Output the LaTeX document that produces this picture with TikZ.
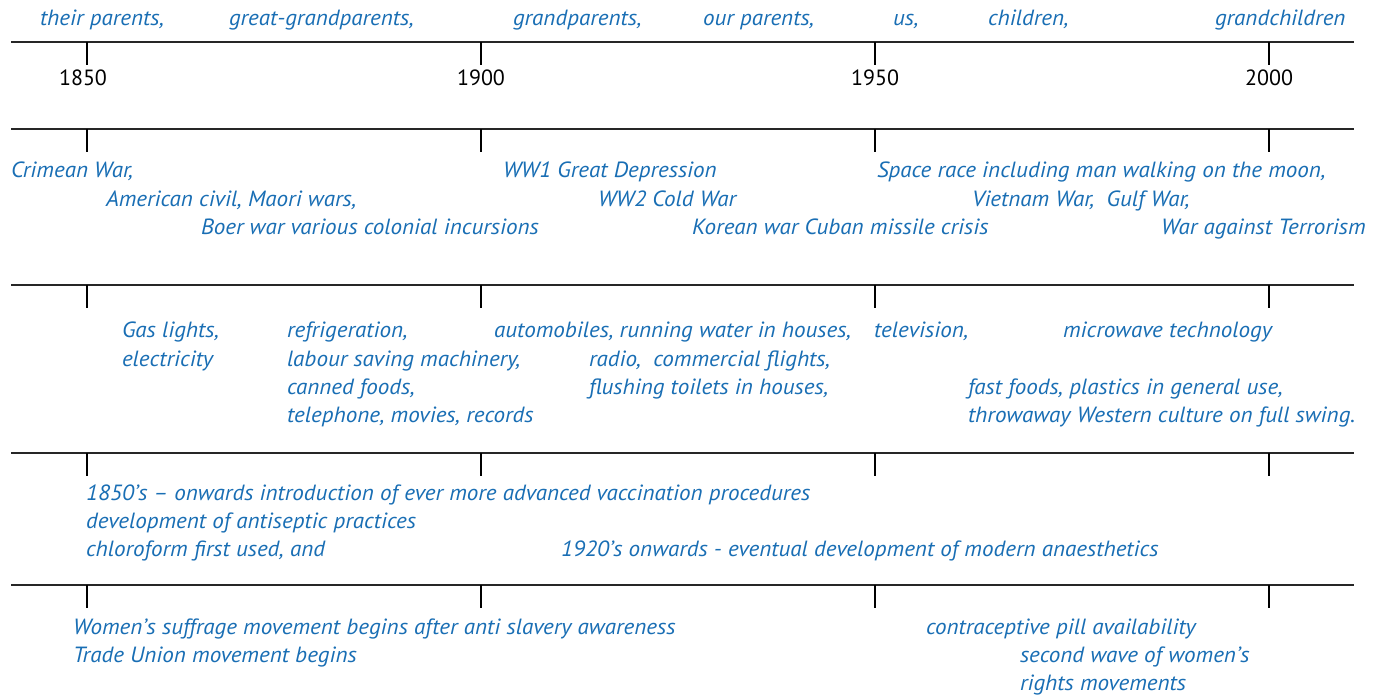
\documentclass[tikz,border=0pt]{standalone}
\usepackage{fontspec}
\setmainfont{PT Sans}[ItalicFeatures={FakeStretch=1.05}]
\definecolor{tlblue}{RGB}{25,110,180}
\begin{document}
\begin{tikzpicture}[x=1pt,y=-1pt,
  lbl/.style={anchor=base west,inner sep=0pt,outer sep=0pt,text=tlblue,font=\fontsize{22}{26}\selectfont\itshape},
  yr/.style={anchor=base,inner sep=0pt,font=\fontsize{22}{26}\selectfont},
  axis/.style={line width=2.4pt,black!85},
  tick/.style={line width=2pt,black}]
\useasboundingbox (0,0) rectangle (1381,694);
% axes
\foreach \y/\n in {42/a,129/b,285/c,453/d,585/e}{
  \draw[axis] (11,\y) -- (1354,\y);
  \foreach \x in {87,481,875,1269}{
    \draw[tick] (\x,\y) -- (\x,\y+23);
  }
}
% row 1
\node[lbl] (t1) at (40,25) {their parents,};
\node[lbl] (t2) at (229,25) {great-grandparents,};
\node[lbl] (t3) at (513,25) {grandparents,};
\node[lbl] (t4) at (703,25) {our parents,};
\node[lbl] (t5) at (893,25) {us,};
\node[lbl] (t6) at (988,25) {children,};
\node[lbl] (t7) at (1215,25) {grandchildren};
\node[yr] (y1) at (83,85) {1850};
\node[yr] (y2) at (481,85) {1900};
\node[yr] (y3) at (875,85) {1950};
\node[yr] (y4) at (1269,85) {2000};
% row 2
\node[lbl] (w1) at (11,177) {Crimean War,};
\node[lbl] (w2) at (106,206) {American civil, Maori wars,};
\node[lbl] (w3) at (201,234) {Boer war various colonial incursions};
\node[lbl] (w4) at (503,177) {WW1 Great Depression};
\node[lbl] (w5) at (598,206) {WW2 Cold War};
\node[lbl] (w6) at (692,234) {Korean war Cuban missile crisis};
\node[lbl] (w7) at (877,177) {Space race including man walking on the moon,};
\node[lbl] (w8) at (972,206) {Vietnam War,\ \ Gulf War,};
\node[lbl] (w9) at (1161,234) {War against Terrorism};
% row 3
\node[lbl] (g1) at (122,337) {Gas lights,};
\node[lbl] (g2) at (122,366) {electricity};
\node[lbl] (g3) at (287,337) {refrigeration,};
\node[lbl] (g4) at (287,366) {labour saving machinery,};
\node[lbl] (g5) at (287,394) {canned foods,};
\node[lbl] (g6) at (287,422) {telephone, movies, records};
\node[lbl] (g7) at (494,337) {automobiles, running water in houses,};
\node[lbl] (g8) at (589,366) {radio,\ \ commercial flights,};
\node[lbl] (g9) at (589,394) {flushing toilets in houses,};
\node[lbl] (g10) at (874,337) {television,};
\node[lbl] (g11) at (1063,337) {microwave technology};
\node[lbl] (g12) at (968,394) {fast foods, plastics in general use,};
\node[lbl] (g13) at (968,422) {throwaway Western culture on full swing.};
% row 4
\node[lbl] (m1) at (86,500) {1850’s – onwards introduction of ever more advanced vaccination procedures};
\node[lbl] (m2) at (86,528) {development of antiseptic practices};
\node[lbl] (m3) at (86,556) {chloroform first used, and};
\node[lbl] (m4) at (561,556) {1920’s onwards - eventual development of modern anaesthetics};
% row 5
\node[lbl] (s1) at (73,634) {Women’s suffrage movement begins after anti slavery awareness};
\node[lbl] (s2) at (73,662) {Trade Union movement begins};
\node[lbl] (s3) at (926,634) {contraceptive pill availability};
\node[lbl] (s4) at (1020,662) {second wave of women’s};
\node[lbl] (s5) at (1020,690) {rights movements};
\end{tikzpicture}
\end{document}
